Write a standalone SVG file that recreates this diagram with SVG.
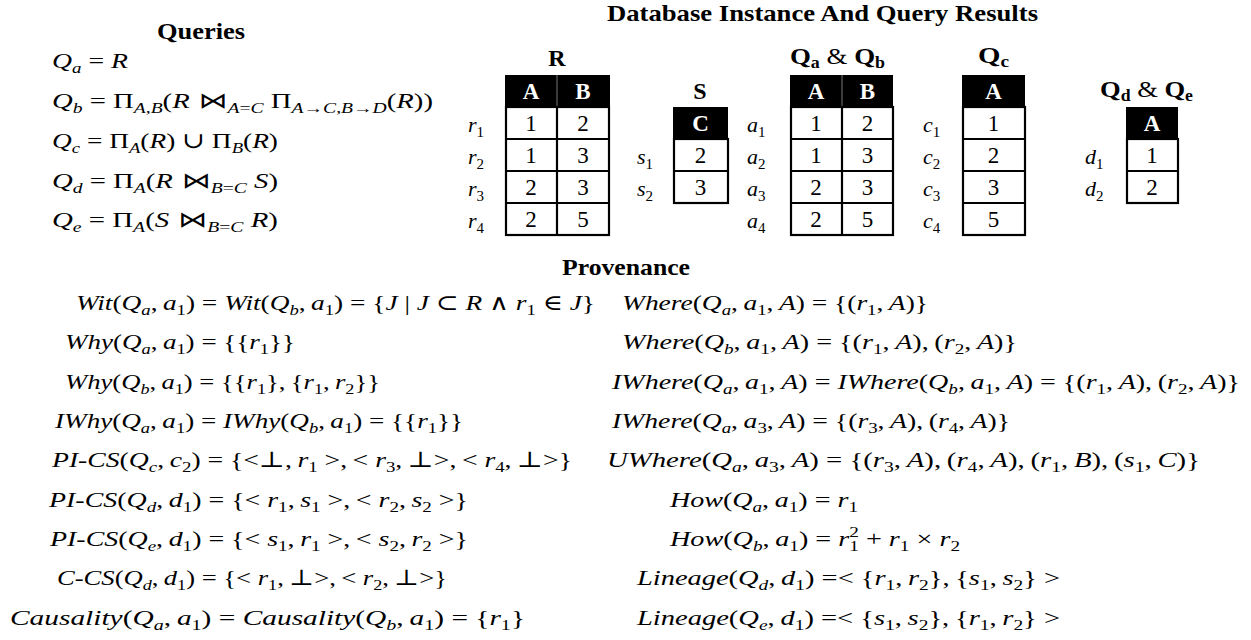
<svg xmlns="http://www.w3.org/2000/svg" width="1251" height="640" viewBox="0 0 1251 640">
<style>
.m{font-family:'Liberation Serif','Times New Roman',Times,'Nimbus Roman','DejaVu Serif',serif;font-size:22px;font-style:italic;fill:#000}
.u{font-style:normal}
.j{font-family:'DejaVu Sans','DejaVu Serif',sans-serif;font-size:22px;font-style:normal;font-weight:normal}
.sb{font-size:15px;baseline-shift:-5px}
.sp{font-size:15px;baseline-shift:9px}
.b{font-family:'Liberation Serif','Times New Roman',Times,serif;font-weight:bold;font-size:24px;fill:#000}
.bs{font-size:16px;baseline-shift:-4px}
.amp{font-weight:normal}
.hd{font-family:'Liberation Serif','Times New Roman',Times,serif;font-weight:bold;font-size:23px;fill:#fff;text-anchor:middle}
.n{font-family:'Liberation Serif','Times New Roman',Times,serif;font-size:23px;fill:#000;text-anchor:middle}
.head{fill:#000}
.cell{fill:none;stroke:#000;stroke-width:2.2}
.sep{stroke:#000;stroke-width:2.2}
.hsep{stroke:#777;stroke-width:1}
</style>
<rect width="1251" height="640" fill="#fff"/>
<g id="connectors"/>

<g id="titles">
<text class="b" x="607" y="21" textLength="431" lengthAdjust="spacingAndGlyphs">Database Instance And Query Results</text>
<text class="b" x="157" y="39" textLength="88" lengthAdjust="spacingAndGlyphs">Queries</text>
<text class="b" x="562" y="275" textLength="128" lengthAdjust="spacingAndGlyphs">Provenance</text>
</g>

<g id="queries">
<text class="m" x="52" y="68" textLength="76" lengthAdjust="spacingAndGlyphs">Q<tspan class="sb">a</tspan><tspan class="u"> = </tspan>R</text>
<text class="m" x="52" y="108" textLength="381" lengthAdjust="spacingAndGlyphs">Q<tspan class="sb">b</tspan><tspan class="u"> = Π</tspan><tspan class="sb">A<tspan class="u">,</tspan>B</tspan><tspan class="u">(</tspan>R<tspan class="j"> ⋈</tspan><tspan class="sb">A<tspan class="u">=</tspan>C</tspan><tspan class="u"> Π</tspan><tspan class="sb">A<tspan class="u">→</tspan>C<tspan class="u">,</tspan>B<tspan class="u">→</tspan>D</tspan><tspan class="u">(</tspan>R<tspan class="u">))</tspan></text>
<text class="m" x="52" y="148" textLength="226" lengthAdjust="spacingAndGlyphs">Q<tspan class="sb">c</tspan><tspan class="u"> = Π</tspan><tspan class="sb">A</tspan><tspan class="u">(</tspan>R<tspan class="u">) ∪ Π</tspan><tspan class="sb">B</tspan><tspan class="u">(</tspan>R<tspan class="u">)</tspan></text>
<text class="m" x="52" y="188" textLength="226" lengthAdjust="spacingAndGlyphs">Q<tspan class="sb">d</tspan><tspan class="u"> = Π</tspan><tspan class="sb">A</tspan><tspan class="u">(</tspan>R<tspan class="j"> ⋈</tspan><tspan class="sb">B<tspan class="u">=</tspan>C</tspan> S<tspan class="u">)</tspan></text>
<text class="m" x="52" y="227" textLength="226" lengthAdjust="spacingAndGlyphs">Q<tspan class="sb">e</tspan><tspan class="u"> = Π</tspan><tspan class="sb">A</tspan><tspan class="u">(</tspan>S<tspan class="j"> ⋈</tspan><tspan class="sb">B<tspan class="u">=</tspan>C</tspan> R<tspan class="u">)</tspan></text>
</g>

<g id="table-R">
<text class="b" x="557" y="66" text-anchor="middle">R</text>
<rect class="head" x="505" y="75" width="105" height="32"/>
<line class="hsep" x1="557" y1="75" x2="557" y2="107"/>
<text class="hd" x="531" y="99">A</text>
<text class="hd" x="583" y="99">B</text>
<rect class="cell" x="506" y="107" width="103" height="128"/>
<line class="sep" x1="506" y1="139" x2="609" y2="139"/>
<line class="sep" x1="506" y1="171" x2="609" y2="171"/>
<line class="sep" x1="506" y1="203" x2="609" y2="203"/>
<line class="sep" x1="557" y1="107" x2="557" y2="235"/>
<text class="n" x="531" y="131">1</text><text class="n" x="583" y="131">2</text>
<text class="n" x="531" y="163">1</text><text class="n" x="583" y="163">3</text>
<text class="n" x="531" y="195">2</text><text class="n" x="583" y="195">3</text>
<text class="n" x="531" y="227">2</text><text class="n" x="583" y="227">5</text>
<text class="m" x="468" y="132">r<tspan class="sb u">1</tspan></text>
<text class="m" x="468" y="164">r<tspan class="sb u">2</tspan></text>
<text class="m" x="468" y="196">r<tspan class="sb u">3</tspan></text>
<text class="m" x="468" y="228">r<tspan class="sb u">4</tspan></text>
</g>

<g id="table-S">
<text class="b" x="700" y="99" text-anchor="middle">S</text>
<rect class="head" x="673" y="107" width="55" height="32"/>
<text class="hd" x="700.5" y="131">C</text>
<rect class="cell" x="674" y="139" width="54" height="64"/>
<line class="sep" x1="674" y1="171" x2="728" y2="171"/>
<text class="n" x="700.5" y="163">2</text>
<text class="n" x="700.5" y="195">3</text>
<text class="m" x="637" y="164">s<tspan class="sb u">1</tspan></text>
<text class="m" x="637" y="196">s<tspan class="sb u">2</tspan></text>
</g>

<g id="table-QaQb">
<text class="b" x="790" y="64" textLength="95" lengthAdjust="spacingAndGlyphs">Q<tspan class="bs">a</tspan><tspan class="amp"> &amp; </tspan>Q<tspan class="bs">b</tspan></text>
<rect class="head" x="790" y="75" width="103" height="32"/>
<line class="hsep" x1="842" y1="75" x2="842" y2="107"/>
<text class="hd" x="816" y="99">A</text>
<text class="hd" x="867.5" y="99">B</text>
<rect class="cell" x="791" y="107" width="102" height="128"/>
<line class="sep" x1="791" y1="139" x2="893" y2="139"/>
<line class="sep" x1="791" y1="171" x2="893" y2="171"/>
<line class="sep" x1="791" y1="203" x2="893" y2="203"/>
<line class="sep" x1="842" y1="107" x2="842" y2="235"/>
<text class="n" x="816" y="131">1</text><text class="n" x="867.5" y="131">2</text>
<text class="n" x="816" y="163">1</text><text class="n" x="867.5" y="163">3</text>
<text class="n" x="816" y="195">2</text><text class="n" x="867.5" y="195">3</text>
<text class="n" x="816" y="227">2</text><text class="n" x="867.5" y="227">5</text>
<text class="m" x="747" y="132">a<tspan class="sb u">1</tspan></text>
<text class="m" x="747" y="164">a<tspan class="sb u">2</tspan></text>
<text class="m" x="747" y="196">a<tspan class="sb u">3</tspan></text>
<text class="m" x="747" y="228">a<tspan class="sb u">4</tspan></text>
</g>

<g id="table-Qc">
<text class="b" x="978" y="63" textLength="31" lengthAdjust="spacingAndGlyphs">Q<tspan class="bs">c</tspan></text>
<rect class="head" x="962" y="75" width="63" height="32"/>
<text class="hd" x="993.5" y="99">A</text>
<rect class="cell" x="963" y="107" width="62" height="128"/>
<line class="sep" x1="963" y1="139" x2="1025" y2="139"/>
<line class="sep" x1="963" y1="171" x2="1025" y2="171"/>
<line class="sep" x1="963" y1="203" x2="1025" y2="203"/>
<text class="n" x="993.5" y="131">1</text>
<text class="n" x="993.5" y="163">2</text>
<text class="n" x="993.5" y="195">3</text>
<text class="n" x="993.5" y="227">5</text>
<text class="m" x="923" y="132">c<tspan class="sb u">1</tspan></text>
<text class="m" x="923" y="164">c<tspan class="sb u">2</tspan></text>
<text class="m" x="923" y="196">c<tspan class="sb u">3</tspan></text>
<text class="m" x="923" y="228">c<tspan class="sb u">4</tspan></text>
</g>

<g id="table-QdQe">
<text class="b" x="1100" y="97" textLength="93" lengthAdjust="spacingAndGlyphs">Q<tspan class="bs">d</tspan><tspan class="amp"> &amp; </tspan>Q<tspan class="bs">e</tspan></text>
<rect class="head" x="1126" y="107" width="52" height="32"/>
<text class="hd" x="1152" y="131">A</text>
<rect class="cell" x="1127" y="139" width="51" height="64"/>
<line class="sep" x1="1127" y1="171" x2="1178" y2="171"/>
<text class="n" x="1152" y="163">1</text>
<text class="n" x="1152" y="195">2</text>
<text class="m" x="1085" y="164">d<tspan class="sb u">1</tspan></text>
<text class="m" x="1085" y="196">d<tspan class="sb u">2</tspan></text>
</g>

<g id="provenance-left">
<text class="m" x="76" y="310" textLength="519" lengthAdjust="spacingAndGlyphs">Wit<tspan class="u">(</tspan>Q<tspan class="sb">a</tspan><tspan class="u">,&#8201;</tspan>a<tspan class="sb u">1</tspan><tspan class="u">) = </tspan>Wit<tspan class="u">(</tspan>Q<tspan class="sb">b</tspan><tspan class="u">,&#8201;</tspan>a<tspan class="sb u">1</tspan><tspan class="u">) = {</tspan>J<tspan class="u"> | </tspan>J<tspan class="u"> ⊂ </tspan>R<tspan class="u"> ∧ </tspan>r<tspan class="sb u">1</tspan><tspan class="u"> ∈ </tspan>J<tspan class="u">}</tspan></text>
<text class="m" x="65" y="349" textLength="230" lengthAdjust="spacingAndGlyphs">Why<tspan class="u">(</tspan>Q<tspan class="sb">a</tspan><tspan class="u">,&#8201;</tspan>a<tspan class="sb u">1</tspan><tspan class="u">) = {{</tspan>r<tspan class="sb u">1</tspan><tspan class="u">}}</tspan></text>
<text class="m" x="65" y="389" textLength="315" lengthAdjust="spacingAndGlyphs">Why<tspan class="u">(</tspan>Q<tspan class="sb">b</tspan><tspan class="u">,&#8201;</tspan>a<tspan class="sb u">1</tspan><tspan class="u">) = {{</tspan>r<tspan class="sb u">1</tspan><tspan class="u">},&#8201;{</tspan>r<tspan class="sb u">1</tspan><tspan class="u">,&#8201;</tspan>r<tspan class="sb u">2</tspan><tspan class="u">}}</tspan></text>
<text class="m" x="55" y="428" textLength="408" lengthAdjust="spacingAndGlyphs">IWhy<tspan class="u">(</tspan>Q<tspan class="sb">a</tspan><tspan class="u">,&#8201;</tspan>a<tspan class="sb u">1</tspan><tspan class="u">) = </tspan>IWhy<tspan class="u">(</tspan>Q<tspan class="sb">b</tspan><tspan class="u">,&#8201;</tspan>a<tspan class="sb u">1</tspan><tspan class="u">) = {{</tspan>r<tspan class="sb u">1</tspan><tspan class="u">}}</tspan></text>
<text class="m" x="52" y="467" textLength="520" lengthAdjust="spacingAndGlyphs">PI-CS<tspan class="u">(</tspan>Q<tspan class="sb">c</tspan><tspan class="u">,&#8201;</tspan>c<tspan class="sb u">2</tspan><tspan class="u">) = {&lt;⊥,&#8201;</tspan>r<tspan class="sb u">1</tspan><tspan class="u"> &gt;,&#8201;&lt; </tspan>r<tspan class="sb u">3</tspan><tspan class="u">,&#8201;⊥&gt;,&#8201;&lt; </tspan>r<tspan class="sb u">4</tspan><tspan class="u">,&#8201;⊥&gt;}</tspan></text>
<text class="m" x="49" y="507" textLength="419" lengthAdjust="spacingAndGlyphs">PI-CS<tspan class="u">(</tspan>Q<tspan class="sb">d</tspan><tspan class="u">,&#8201;</tspan>d<tspan class="sb u">1</tspan><tspan class="u">) = {&lt; </tspan>r<tspan class="sb u">1</tspan><tspan class="u">,&#8201;</tspan>s<tspan class="sb u">1</tspan><tspan class="u"> &gt;,&#8201;&lt; </tspan>r<tspan class="sb u">2</tspan><tspan class="u">,&#8201;</tspan>s<tspan class="sb u">2</tspan><tspan class="u"> &gt;}</tspan></text>
<text class="m" x="50" y="546" textLength="418" lengthAdjust="spacingAndGlyphs">PI-CS<tspan class="u">(</tspan>Q<tspan class="sb">e</tspan><tspan class="u">,&#8201;</tspan>d<tspan class="sb u">1</tspan><tspan class="u">) = {&lt; </tspan>s<tspan class="sb u">1</tspan><tspan class="u">,&#8201;</tspan>r<tspan class="sb u">1</tspan><tspan class="u"> &gt;,&#8201;&lt; </tspan>s<tspan class="sb u">2</tspan><tspan class="u">,&#8201;</tspan>r<tspan class="sb u">2</tspan><tspan class="u"> &gt;}</tspan></text>
<text class="m" x="57" y="585" textLength="390" lengthAdjust="spacingAndGlyphs">C-CS<tspan class="u">(</tspan>Q<tspan class="sb">d</tspan><tspan class="u">,&#8201;</tspan>d<tspan class="sb u">1</tspan><tspan class="u">) = {&lt; </tspan>r<tspan class="sb u">1</tspan><tspan class="u">,&#8201;⊥&gt;,&#8201;&lt; </tspan>r<tspan class="sb u">2</tspan><tspan class="u">,&#8201;⊥&gt;}</tspan></text>
<text class="m" x="10" y="625" textLength="515" lengthAdjust="spacingAndGlyphs">Causality<tspan class="u">(</tspan>Q<tspan class="sb">a</tspan><tspan class="u">,&#8201;</tspan>a<tspan class="sb u">1</tspan><tspan class="u">) = </tspan>Causality<tspan class="u">(</tspan>Q<tspan class="sb">b</tspan><tspan class="u">,&#8201;</tspan>a<tspan class="sb u">1</tspan><tspan class="u">) = {</tspan>r<tspan class="sb u">1</tspan><tspan class="u">}</tspan></text>
</g>

<g id="provenance-right">
<text class="m" x="622" y="310" textLength="306" lengthAdjust="spacingAndGlyphs">Where<tspan class="u">(</tspan>Q<tspan class="sb">a</tspan><tspan class="u">,&#8201;</tspan>a<tspan class="sb u">1</tspan><tspan class="u">,&#8201;</tspan>A<tspan class="u">) = {(</tspan>r<tspan class="sb u">1</tspan><tspan class="u">,&#8201;</tspan>A<tspan class="u">)}</tspan></text>
<text class="m" x="622" y="349" textLength="395" lengthAdjust="spacingAndGlyphs">Where<tspan class="u">(</tspan>Q<tspan class="sb">b</tspan><tspan class="u">,&#8201;</tspan>a<tspan class="sb u">1</tspan><tspan class="u">,&#8201;</tspan>A<tspan class="u">) = {(</tspan>r<tspan class="sb u">1</tspan><tspan class="u">,&#8201;</tspan>A<tspan class="u">),&#8201;(</tspan>r<tspan class="sb u">2</tspan><tspan class="u">,&#8201;</tspan>A<tspan class="u">)}</tspan></text>
<text class="m" x="612" y="389" textLength="628" lengthAdjust="spacingAndGlyphs">IWhere<tspan class="u">(</tspan>Q<tspan class="sb">a</tspan><tspan class="u">,&#8201;</tspan>a<tspan class="sb u">1</tspan><tspan class="u">,&#8201;</tspan>A<tspan class="u">) = </tspan>IWhere<tspan class="u">(</tspan>Q<tspan class="sb">b</tspan><tspan class="u">,&#8201;</tspan>a<tspan class="sb u">1</tspan><tspan class="u">,&#8201;</tspan>A<tspan class="u">) = {(</tspan>r<tspan class="sb u">1</tspan><tspan class="u">,&#8201;</tspan>A<tspan class="u">),&#8201;(</tspan>r<tspan class="sb u">2</tspan><tspan class="u">,&#8201;</tspan>A<tspan class="u">)}</tspan></text>
<text class="m" x="612" y="428" textLength="398" lengthAdjust="spacingAndGlyphs">IWhere<tspan class="u">(</tspan>Q<tspan class="sb">a</tspan><tspan class="u">,&#8201;</tspan>a<tspan class="sb u">3</tspan><tspan class="u">,&#8201;</tspan>A<tspan class="u">) = {(</tspan>r<tspan class="sb u">3</tspan><tspan class="u">,&#8201;</tspan>A<tspan class="u">),&#8201;(</tspan>r<tspan class="sb u">4</tspan><tspan class="u">,&#8201;</tspan>A<tspan class="u">)}</tspan></text>
<text class="m" x="607" y="467" textLength="593" lengthAdjust="spacingAndGlyphs">UWhere<tspan class="u">(</tspan>Q<tspan class="sb">a</tspan><tspan class="u">,&#8201;</tspan>a<tspan class="sb u">3</tspan><tspan class="u">,&#8201;</tspan>A<tspan class="u">) = {(</tspan>r<tspan class="sb u">3</tspan><tspan class="u">,&#8201;</tspan>A<tspan class="u">),&#8201;(</tspan>r<tspan class="sb u">4</tspan><tspan class="u">,&#8201;</tspan>A<tspan class="u">),&#8201;(</tspan>r<tspan class="sb u">1</tspan><tspan class="u">,&#8201;</tspan>B<tspan class="u">),&#8201;(</tspan>s<tspan class="sb u">1</tspan><tspan class="u">,&#8201;</tspan>C<tspan class="u">)}</tspan></text>
<text class="m" x="670" y="507" textLength="188" lengthAdjust="spacingAndGlyphs">How<tspan class="u">(</tspan>Q<tspan class="sb">a</tspan><tspan class="u">,&#8201;</tspan>a<tspan class="sb u">1</tspan><tspan class="u">) = </tspan>r<tspan class="sb u">1</tspan></text>
<text class="m" x="670" y="546" textLength="290" lengthAdjust="spacingAndGlyphs">How<tspan class="u">(</tspan>Q<tspan class="sb">b</tspan><tspan class="u">,&#8201;</tspan>a<tspan class="sb u">1</tspan><tspan class="u">) = </tspan>r<tspan class="sb u">1</tspan><tspan class="sp u" dx="-7.5">2</tspan><tspan class="u"> + </tspan>r<tspan class="sb u">1</tspan><tspan class="u"> × </tspan>r<tspan class="sb u">2</tspan></text>
<text class="m" x="637" y="585" textLength="423" lengthAdjust="spacingAndGlyphs">Lineage<tspan class="u">(</tspan>Q<tspan class="sb">d</tspan><tspan class="u">,&#8201;</tspan>d<tspan class="sb u">1</tspan><tspan class="u">) =&lt; {</tspan>r<tspan class="sb u">1</tspan><tspan class="u">,&#8201;</tspan>r<tspan class="sb u">2</tspan><tspan class="u">},&#8201;{</tspan>s<tspan class="sb u">1</tspan><tspan class="u">,&#8201;</tspan>s<tspan class="sb u">2</tspan><tspan class="u">} &gt;</tspan></text>
<text class="m" x="637" y="625" textLength="423" lengthAdjust="spacingAndGlyphs">Lineage<tspan class="u">(</tspan>Q<tspan class="sb">e</tspan><tspan class="u">,&#8201;</tspan>d<tspan class="sb u">1</tspan><tspan class="u">) =&lt; {</tspan>s<tspan class="sb u">1</tspan><tspan class="u">,&#8201;</tspan>s<tspan class="sb u">2</tspan><tspan class="u">},&#8201;{</tspan>r<tspan class="sb u">1</tspan><tspan class="u">,&#8201;</tspan>r<tspan class="sb u">2</tspan><tspan class="u">} &gt;</tspan></text>
</g>
</svg>
